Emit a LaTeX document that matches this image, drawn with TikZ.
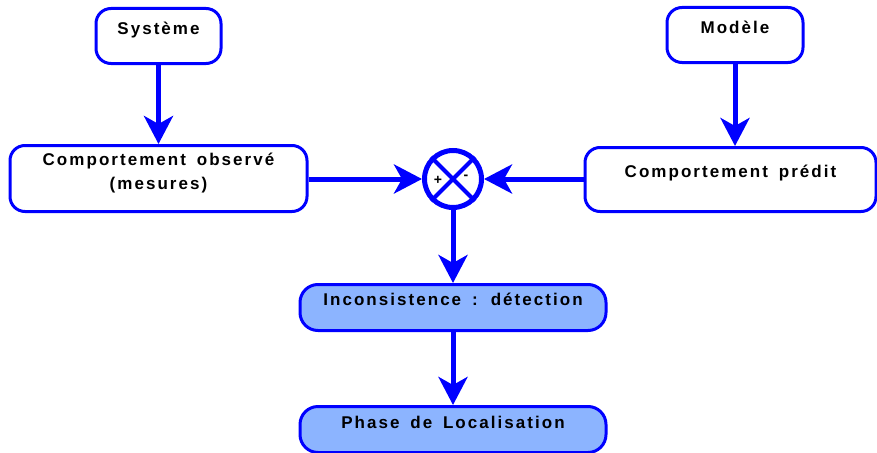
\documentclass[tikz,border=0pt]{standalone}
\usepackage{fontspec}
\newfontfamily\boxfont{Liberation Sans}[LetterSpace=12, WordSpace=1.6]
\usetikzlibrary{arrows.meta, positioning}
\definecolor{fondbleu}{RGB}{140,180,255}

\begin{document}
\begin{tikzpicture}[x=1pt, y=-1pt,
	boite/.style={draw=blue, line width=3pt, rounded corners=15pt, fill=white, inner sep=0pt,
		anchor=north, align=center, font=\boxfont\bfseries\fontsize{17}{24}\selectfont},
	etape/.style={boite, fill=fondbleu, rounded corners=18pt, minimum width=306pt},
	signe/.style={font=\boxfont\bfseries\fontsize{14}{14}\selectfont, inner sep=0pt},
	fleche/.style={blue, line width=5pt, -{Stealth[length=28pt, width=29pt, inset=8pt]}}]
	\useasboundingbox (0,0) rectangle (877,452);

	\node[boite, minimum width=125pt, text height=26pt, text depth=29pt] (sys) at (158.5,7) {Système};
	\node[boite, minimum width=136pt, text height=26pt, text depth=29pt] (mod) at (735,6) {Modèle};
	\node[boite, minimum width=297pt, text height=44pt, text depth=22pt] (obs) at (158.5,144) {Comportement observé\\(mesures)};
	\node[boite, minimum width=291pt, text height=30pt, text depth=34pt] (pred) at (730.5,146) {Comportement prédit};
	\node[draw=blue, line width=5pt, circle, minimum size=57pt, inner sep=0pt] (sum) at (453,179) {};
	\node[etape, text height=21pt, text depth=25pt] (inc) at (453,283) {Inconsistence : détection};
	\node[etape, text height=22pt, text depth=24pt] (loc) at (453,405) {Phase de Localisation};

	% croix du comparateur
	\draw[blue, line width=4pt] (sum.north west) -- (sum.south east) (sum.north east) -- (sum.south west);
	\node[signe, left=15pt of sum.center, anchor=center, yshift=-1pt] {+};
	\node[signe, right=13pt of sum.center, anchor=center, yshift=2pt] {-};

	\draw[fleche] (sys) -- (obs);
	\draw[fleche] (mod.south) -- (mod.south |- pred.north);
	\draw[fleche] (obs.east |- sum) -- (sum.west);
	\draw[fleche] (pred.west |- sum) -- (sum.east);
	\draw[fleche] (sum) -- (inc);
	\draw[fleche] (inc) -- (loc);
\end{tikzpicture}
\end{document}
